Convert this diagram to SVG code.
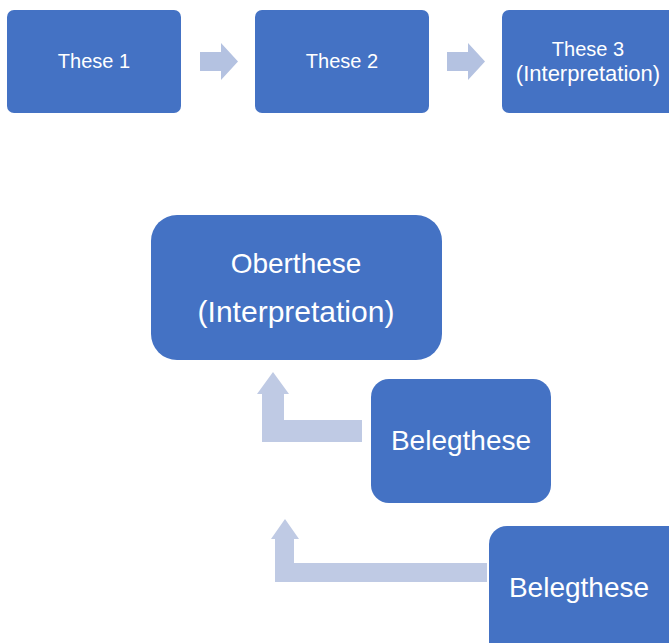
<svg xmlns="http://www.w3.org/2000/svg" width="669" height="643" viewBox="0 0 669 643">
<style>
.box{fill:#4472C4}
.t{fill:#fff;font-family:"Liberation Sans",Arial,sans-serif;text-anchor:middle}
.s{font-size:20px}
.l{font-size:28px}
.a1{fill:#B4C2E1}
.a2{fill:#BFCAE4}
</style>
<rect width="669" height="643" fill="#fff"/>
<g id="connectors">
<polygon class="a1" points="200,52 221,52 221,43 238,61.5 221,80 221,71 200,71"/>
<polygon class="a1" points="447,52 468,52 468,43 485,61.5 468,80 468,71 447,71"/>
<polygon class="a2" points="262,442 262,394 257,394 273,372 289,394 284,394 284,420 362,420 362,442"/>
<polygon class="a2" points="275,582 275,539 271,539 285,519 299,539 294,539 294,563 487,563 487,582"/>
</g>
<g id="these1">
<rect class="box" x="7" y="10" width="174" height="103" rx="7"/>
<text class="t s" x="94" y="68">These 1</text>
</g>
<g id="these2">
<rect class="box" x="255" y="10" width="174" height="103" rx="7"/>
<text class="t s" x="342" y="68">These 2</text>
</g>
<g id="these3">
<rect class="box" x="502" y="10" width="180" height="103" rx="7"/>
<text class="t s" x="588" y="56">These 3</text>
<text class="t" x="588" y="81" font-size="22">(Interpretation)</text>
</g>
<g id="oberthese">
<rect class="box" x="151" y="215" width="291" height="145" rx="26"/>
<text class="t l" x="296" y="273">Oberthese</text>
<text class="t" x="296" y="322" font-size="30">(Interpretation)</text>
</g>
<g id="belegthese1">
<rect class="box" x="371" y="379" width="180" height="124" rx="18"/>
<text class="t l" x="461" y="450">Belegthese</text>
</g>
<g id="belegthese2">
<rect class="box" x="489" y="526" width="200" height="140" rx="18"/>
<text class="t l" x="579" y="597">Belegthese</text>
</g>
</svg>
